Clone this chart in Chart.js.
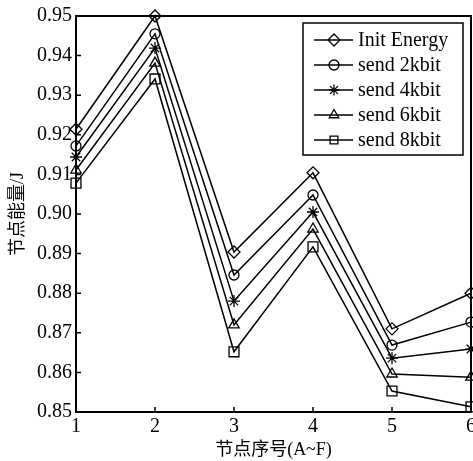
<!DOCTYPE html>
<html><head><meta charset="utf-8">
<script src="https://cdn.jsdelivr.net/npm/chart.js@4.4.1/dist/chart.umd.min.js"></script>
<style>html,body{margin:0;padding:0;background:#fff;}#wrap{width:473px;height:461px;}</style>
</head><body><div id="wrap"><canvas id="c" width="473" height="461"></canvas></div>
<script>
const categories = ['1','2','3','4','5','6'];
const seriesNames = ['Init Energy','send 2kbit','send 4kbit','send 6kbit','send 8kbit'];
const initEnergy = [0.9214, 0.9500, 0.8904, 0.9104, 0.8710, 0.8800];
const send2kbit  = [0.9172, 0.9455, 0.8846, 0.9048, 0.8669, 0.8727];
const send4kbit  = [0.9144, 0.9419, 0.8780, 0.9005, 0.8636, 0.8659];
const send6kbit  = [0.9111, 0.9381, 0.8720, 0.8962, 0.8596, 0.8588];
const send8kbit  = [0.9078, 0.9341, 0.8652, 0.8917, 0.8553, 0.8513];
const yTicks = ['0.85','0.86','0.87','0.88','0.89','0.90','0.91','0.92','0.93','0.94','0.95'];
const xTitle = '节点序号(A~F)';
const yTitle = '节点能量/J';

const seriesValues = [initEnergy, send2kbit, send4kbit, send6kbit, send8kbit];
const styles = [
  {pointStyle:'rectRot', r:6},
  {pointStyle:'circle', r:5},
  {pointStyle:'star', r:6},
  {pointStyle:'triangle', r:6},
  {pointStyle:'rect', r:7}
];
const legendRadius = [6, 5, 5.5, 5.5, 5.5];
const FONT = "'Liberation Serif','Times New Roman','Noto Sans CJK SC',serif";

const datasets = seriesValues.map((vals, i) => ({
  label: seriesNames[i],
  data: vals,
  borderColor: '#000',
  backgroundColor: 'rgba(0,0,0,0)',
  borderWidth: 1.5,
  pointStyle: styles[i].pointStyle,
  pointRadius: styles[i].r,
  pointBorderWidth: 1.3,
  pointBorderColor: '#000',
  pointBackgroundColor: 'rgba(0,0,0,0)',
  tension: 0,
  fill: false,
  clip: 8
}));

const framePlugin = {
  id: 'frame',
  afterDraw(chart) {
    const ctx = chart.ctx, a = chart.chartArea;
    const xs = chart.scales.x, ys = chart.scales.y;
    ctx.save();
    ctx.strokeStyle = '#000';
    ctx.lineWidth = 1.5;
    ctx.beginPath();
    for (let i = 0; i < categories.length; i++) {
      const px = xs.getPixelForValue(i);
      ctx.moveTo(px, a.bottom); ctx.lineTo(px, a.bottom - 5);
    }
    ys.ticks.forEach(t => {
      const py = ys.getPixelForValue(t.value);
      ctx.moveTo(a.left, py); ctx.lineTo(a.left + 5, py);
    });
    ctx.stroke();
    ctx.lineWidth = 2;
    ctx.strokeRect(a.left, a.top, a.right - a.left, a.bottom - a.top);
    // legend
    const bx = a.right - 168, by = a.top + 7, bw = 160, bh = 132;
    ctx.fillStyle = '#fff';
    ctx.fillRect(bx, by, bw, bh);
    ctx.lineWidth = 1.5;
    ctx.strokeRect(bx, by, bw, bh);
    ctx.font = "20px " + FONT;
    ctx.textBaseline = 'middle';
    ctx.textAlign = 'left';
    chart.data.datasets.forEach((ds, i) => {
      const y = by + 17 + i * 25;
      ctx.strokeStyle = '#000';
      ctx.lineWidth = 1.5;
      ctx.beginPath();
      ctx.moveTo(bx + 11, y); ctx.lineTo(bx + 50, y);
      ctx.stroke();
      ctx.lineWidth = 1.3;
      ctx.fillStyle = 'rgba(0,0,0,0)';
      Chart.helpers.drawPoint(ctx, {pointStyle: ds.pointStyle, radius: legendRadius[i], borderWidth: 1.3, rotation: 0}, bx + 31, y);
      ctx.fillStyle = '#000';
      ctx.fillText(ds.label, bx + 55, y + 1);
    });
    ctx.restore();
  }
};

new Chart(document.getElementById('c'), {
  type: 'line',
  data: { labels: categories, datasets },
  options: {
    responsive: false,
    animation: false,
    devicePixelRatio: 1,
    layout: { autoPadding: false, padding: { left: 0, right: 2, top: 16, bottom: 0 } },
    plugins: { legend: { display: false }, tooltip: { enabled: false } },
    scales: {
      x: {
        type: 'category',
        offset: false,
        grid: { display: false, drawTicks: false },
        border: { display: false },
        ticks: { color: '#000', font: { family: FONT, size: 20 }, padding: 3, maxRotation: 0, autoSkip: false },
        title: { display: true, text: xTitle, color: '#000', font: { family: FONT, size: 18 }, padding: { top: 0, bottom: 0 } },
        afterFit(s) { s.height = 49; s.paddingLeft = 0; s.paddingRight = 0; }
      },
      y: {
        min: 0.85, max: 0.95,
        grid: { display: false, drawTicks: false },
        border: { display: false },
        ticks: {
          stepSize: 0.01, color: '#000', font: { family: FONT, size: 20 }, padding: 4,
          callback: (v, i) => yTicks[i]
        },
        title: { display: true, text: yTitle, color: '#000', font: { family: FONT, size: 18 }, padding: { top: 7, bottom: 0 } },
        afterFit(s) { s.width = 76; s.paddingTop = 0; s.paddingBottom = 0; }
      }
    }
  },
  plugins: [framePlugin]
});
</script></body></html>
